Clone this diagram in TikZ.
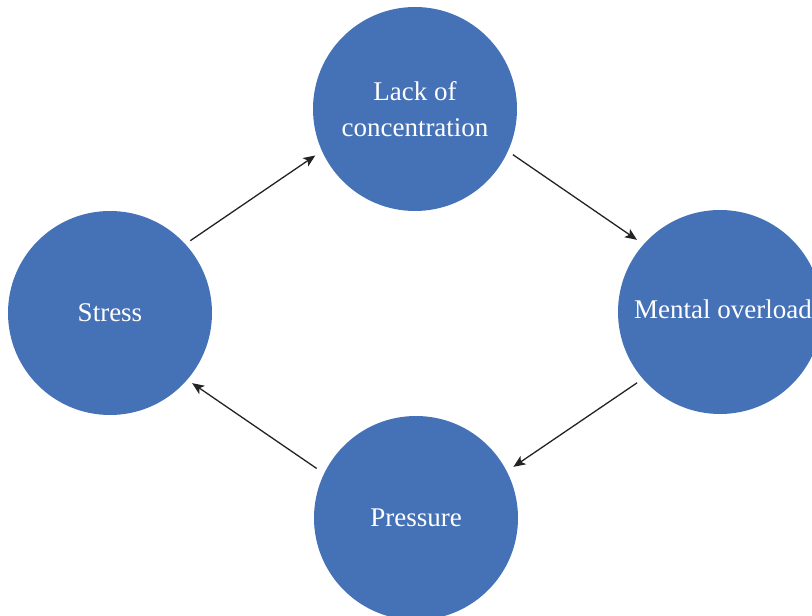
\documentclass[tikz,border=0pt]{standalone}
\usepackage{fontspec}
\setmainfont{Liberation Serif}
\usetikzlibrary{arrows.meta,calc}
\definecolor{circblue}{RGB}{69,113,182}
\definecolor{arrowgray}{RGB}{35,35,35}
\begin{document}
\begin{tikzpicture}[x=1pt,y=1pt,
  bub/.style={circle, fill=circblue, draw=none, minimum size=204pt, inner sep=0pt,
    text=white, font=\fontsize{27}{36}\selectfont, align=center},
  lbl/.style={text=white, font=\fontsize{27}{36}\selectfont, inner sep=0pt},
  link/.style={draw=arrowgray, line width=1.3pt, -{Stealth[length=12pt,width=10pt,inset=3pt]}}]
\useasboundingbox (0,0) rectangle (812,616);
\begin{scope}
\clip (0,0) rectangle (812,616);
\node[bub] (lack) at (415,507) {Lack of\\concentration};
\node[bub] (mental) at (720,304) {};
\node[bub] (stress) at (110,303) {Stress};
\node[bub] (pressure) at (416,98) {};
\end{scope}
\node[lbl, anchor=base east] (mentaltext) at (812,297) {Mental overload};
\node[lbl, anchor=base] (pressuretext) at (416,89) {Pressure};
\draw[link] ($(stress)+(42:108pt)$) -- ($(lack)+(205:110pt)$);
\draw[link] ($(lack)+(335:108pt)$) -- ($(mental)+(139:110pt)$);
\draw[link] ($(mental)+(220.5:109pt)$) -- ($(pressure)+(27.7:110pt)$);
\draw[link] ($(pressure)+(153.5:111pt)$) -- ($(stress)+(319.5:108pt)$);
\end{tikzpicture}
\end{document}
